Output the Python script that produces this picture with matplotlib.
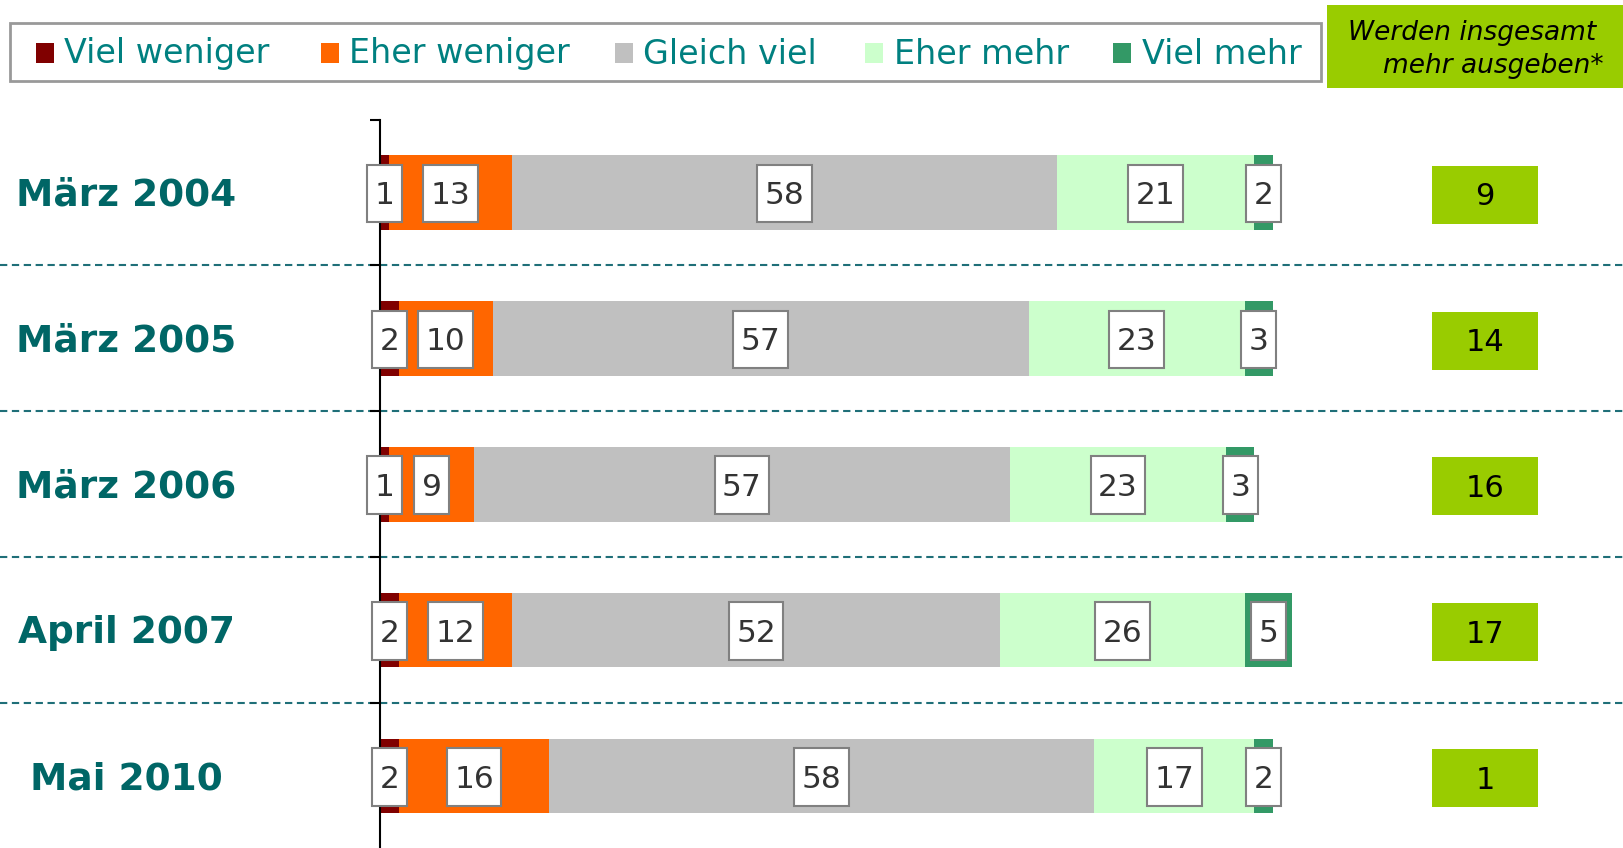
#!/usr/bin/env python3
import numpy as np
import matplotlib; matplotlib.use('Agg')
import matplotlib.pyplot as plt
from matplotlib.patches import Rectangle
from matplotlib.path import Path

periods = ['März 2004', 'März 2005', 'März 2006', 'April 2007', 'Mai 2010']
series_names = ['Viel weniger', 'Eher weniger', 'Gleich viel', 'Eher mehr', 'Viel mehr']
viel_weniger = [1, 2, 1, 2, 2]
eher_weniger = [13, 10, 9, 12, 16]
gleich_viel = [58, 57, 57, 52, 58]
eher_mehr = [21, 23, 23, 26, 17]
viel_mehr = [2, 3, 3, 5, 2]
mehr_gesamt = [9, 14, 16, 17, 1]

colors = ['#800000', '#FF6600', '#C0C0C0', '#CCFFCC', '#339966']
teal = '#006666'
W, H = 1623, 848
PX_UNIT = 9.4      # pixels per percent
X0 = 380           # pixel x of the zero line
ROW0, ROW_H = 192.5, 145.9


def label_box(x0, y0, width, height, mutation_size):
    # taller than wide padding, a bit more room on top like the original
    px, pt, pb = 0.24 * mutation_size, 0.52 * mutation_size, 0.40 * mutation_size
    xa, xb, ya, yb = x0 - px, x0 + width + px, y0 - pb, y0 + height + pt
    return Path([(xa, ya), (xb, ya), (xb, yb), (xa, yb), (xa, ya)], closed=True)


fig = plt.figure(figsize=(W / 100, H / 100), dpi=100)
ax = fig.add_axes([0, 0, 1, 1])
ax.set_xlim(-X0 / PX_UNIT, (W - X0) / PX_UNIT)
ax.set_ylim((H - ROW0) / ROW_H, -ROW0 / ROW_H)

y = np.arange(len(periods))
data = [viel_weniger, eher_weniger, gleich_viel, eher_mehr, viel_mehr]
left = np.zeros(len(periods))
for vals, c in zip(data, colors):
    vals = np.array(vals)
    ax.barh(y, vals, left=left, height=0.51, color=c, zorder=1)
    for yi, l, v in zip(y, left, vals):
        ax.text(l + v / 2, yi + 0.02, str(v), ha='center', va='center', fontsize=22.5, color='#333333', zorder=4,
                bbox=dict(boxstyle=label_box, fc='white', ec='#808080', lw=1.5))
    left += vals

for yi in y[:-1]:
    ax.axhline(yi + 0.5, color='#1F6F78', ls=(0, (3.5, 2.2)), lw=1.5, zorder=0)

for yi, lab in zip(y, periods):
    ax.text((126.5 - X0) / PX_UNIT, yi + 0.02, lab, ha='center', va='center', fontsize=27, weight='bold', color=teal)

# green summary column
bx = (1432 - X0) / PX_UNIT
bw = 106 / PX_UNIT
ax.barh(y + 0.015, bw, left=bx, height=58 / ROW_H, color='#99CC00')
for yi, v in zip(y, mehr_gesamt):
    ax.text(bx + bw / 2, yi + 0.03, str(v), ha='center', va='center', fontsize=22, color='black')

# axis line with small ticks
for s in ['top', 'right', 'bottom']:
    ax.spines[s].set_visible(False)
ax.spines['left'].set_position(('data', 0))
ax.spines['left'].set_bounds(-0.5, (H - ROW0) / ROW_H)
ax.spines['left'].set_linewidth(1.5)
ax.spines['left'].set_zorder(3)
ax.set_yticks(y - 0.5); ax.set_yticklabels([])
ax.tick_params(axis='y', length=7, width=1.5, direction='out')
ax.set_xticks([])

# legend box
fx = lambda px: px / W
fy = lambda py: 1 - py / H
fig.add_artist(Rectangle((fx(10), fy(81)), fx(1311), 58 / H, transform=fig.transFigure,
                         fc='white', ec='#999999', lw=2))
mark_x = [36, 321, 615, 865, 1113]
text_x = [64, 349, 643, 894, 1142]
for name, c, mx, tx in zip(series_names, colors, mark_x, text_x):
    fig.add_artist(Rectangle((fx(mx), fy(63)), 18 / W, 20 / H, transform=fig.transFigure, fc=c, ec='none'))
    fig.text(fx(tx), fy(54), name, ha='left', va='center', fontsize=24, color='#008080')

# header box
fig.add_artist(Rectangle((fx(1327), fy(88)), fx(296), 83 / H, transform=fig.transFigure, fc='#99CC00', ec='none'))
fig.text(fx(1472), fy(33), 'Werden insgesamt', ha='center', va='center', fontsize=19, style='italic')
fig.text(fx(1493), fy(66), 'mehr ausgeben*', ha='center', va='center', fontsize=19, style='italic')

plt.savefig('out.png', dpi=100)
plt.close()
